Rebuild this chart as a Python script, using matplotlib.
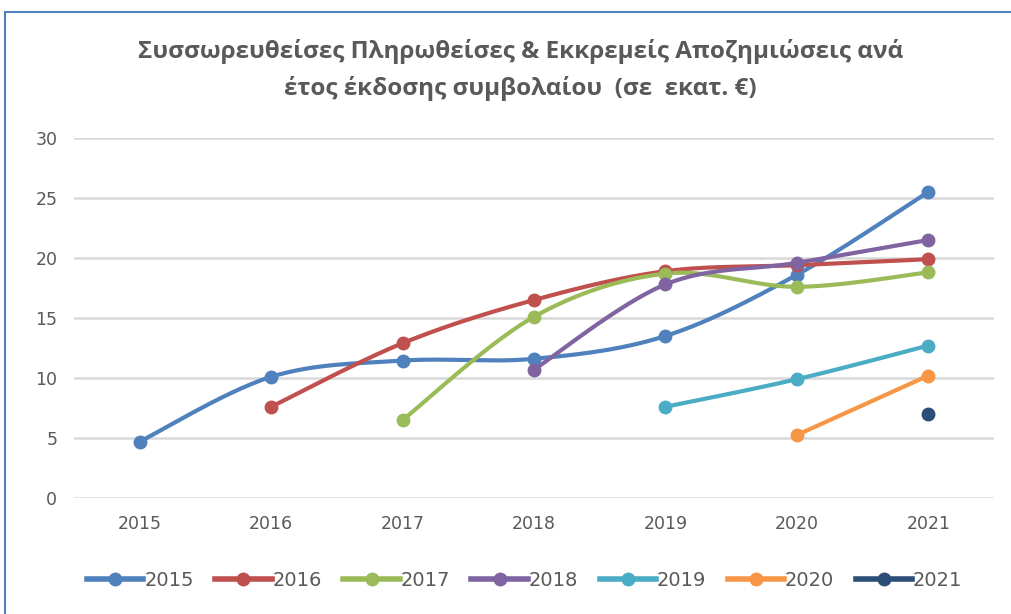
import matplotlib.pyplot as plt
import numpy as np
from matplotlib.patches import Rectangle

years = [2015, 2016, 2017, 2018, 2019, 2020, 2021]

# per jaar van uitgifte: waarden vanaf dat jaar tot 2021
s2015 = [4.7, 10.1, 11.45, 11.6, 13.5, 18.6, 25.5]
s2016 = [7.6, 12.9, 16.5, 18.9, 19.4, 19.9]
s2017 = [6.5, 15.1, 18.7, 17.6, 18.8]
s2018 = [10.7, 17.8, 19.6, 21.5]
s2019 = [7.6, 9.9, 12.7]
s2020 = [5.25, 10.2]
s2021 = [7.0]

series = [s2015, s2016, s2017, s2018, s2019, s2020, s2021]
labels = ["2015", "2016", "2017", "2018", "2019", "2020", "2021"]
colors = ["#4F81BD", "#C0504D", "#9BBB59", "#8064A2", "#4BACC6", "#F79646", "#2C4D75"]

title = "Συσσωρευθείσες Πληρωθείσες & Εκκρεμείς Αποζημιώσεις ανά\nέτος έκδοσης συμβολαίου  (σε  εκατ. €)"


def smooth(x, y, n=30):
    # excel-achtige gladde lijn (catmull-rom via bezier)
    x = np.asarray(x, float)
    y = np.asarray(y, float)
    if len(x) < 3:
        return x, y
    px = np.concatenate([[x[0]], x, [x[-1]]])
    py = np.concatenate([[y[0]], y, [y[-1]]])
    t = np.linspace(0, 1, n)
    xs, ys = [], []
    for i in range(1, len(px) - 2):
        p0, p1, p2, p3 = (np.array([px[j], py[j]]) for j in (i - 1, i, i + 1, i + 2))
        c1 = p1 + (p2 - p0) / 6
        c2 = p2 - (p3 - p1) / 6
        b = ((1 - t) ** 3)[:, None] * p1 + (3 * (1 - t) ** 2 * t)[:, None] * c1 \
            + (3 * (1 - t) * t ** 2)[:, None] * c2 + (t ** 3)[:, None] * p2
        xs.append(b[:, 0])
        ys.append(b[:, 1])
    return np.concatenate(xs), np.concatenate(ys)


fig = plt.figure(figsize=(10.11, 6.14), dpi=100)
fig.patches.append(Rectangle((5 / 1011, -0.1), 1.2, 1.1 - 12 / 614, transform=fig.transFigure,
                             fill=False, edgecolor="#4F81BD", linewidth=1.5))

ax = fig.add_axes([74 / 1011, 116 / 614, 920 / 1011, 360 / 614])
for s, lab, c in zip(series, labels, colors):
    xv = years[len(years) - len(s):]
    sx, sy = smooth(xv, s)
    ax.plot(sx, sy, color=c, lw=3, solid_capstyle="round", zorder=3)
    ax.plot(xv, s, "o", color=c, ms=9, zorder=4)
    ax.plot([], [], color=c, lw=4, marker="o", ms=9, label=lab)

ax.set_xlim(2014.5, 2021.5)
ax.set_ylim(0, 30)
ax.set_yticks(range(0, 31, 5))
ax.set_xticks(years)
ax.set_xticklabels(labels)
ax.grid(axis="y", color="#D9D9D9", lw=1.8)
ax.set_axisbelow(True)
for sp in ax.spines.values():
    sp.set_visible(False)
ax.tick_params(length=0, labelsize=12.5, labelcolor="#595959", pad=12)

fig.text(0.515, 0.886, title, ha="center", va="center", fontsize=17.5, fontweight="bold",
         color="#595959", linespacing=1.6, family="Open Sans")

fig.legend(loc="center", bbox_to_anchor=(0.519, 0.055), ncol=7, frameon=False, fontsize=14,
           handlelength=2.9, handletextpad=0.05, columnspacing=1.1, labelcolor="#595959")

fig.savefig("out.png", dpi=100)
